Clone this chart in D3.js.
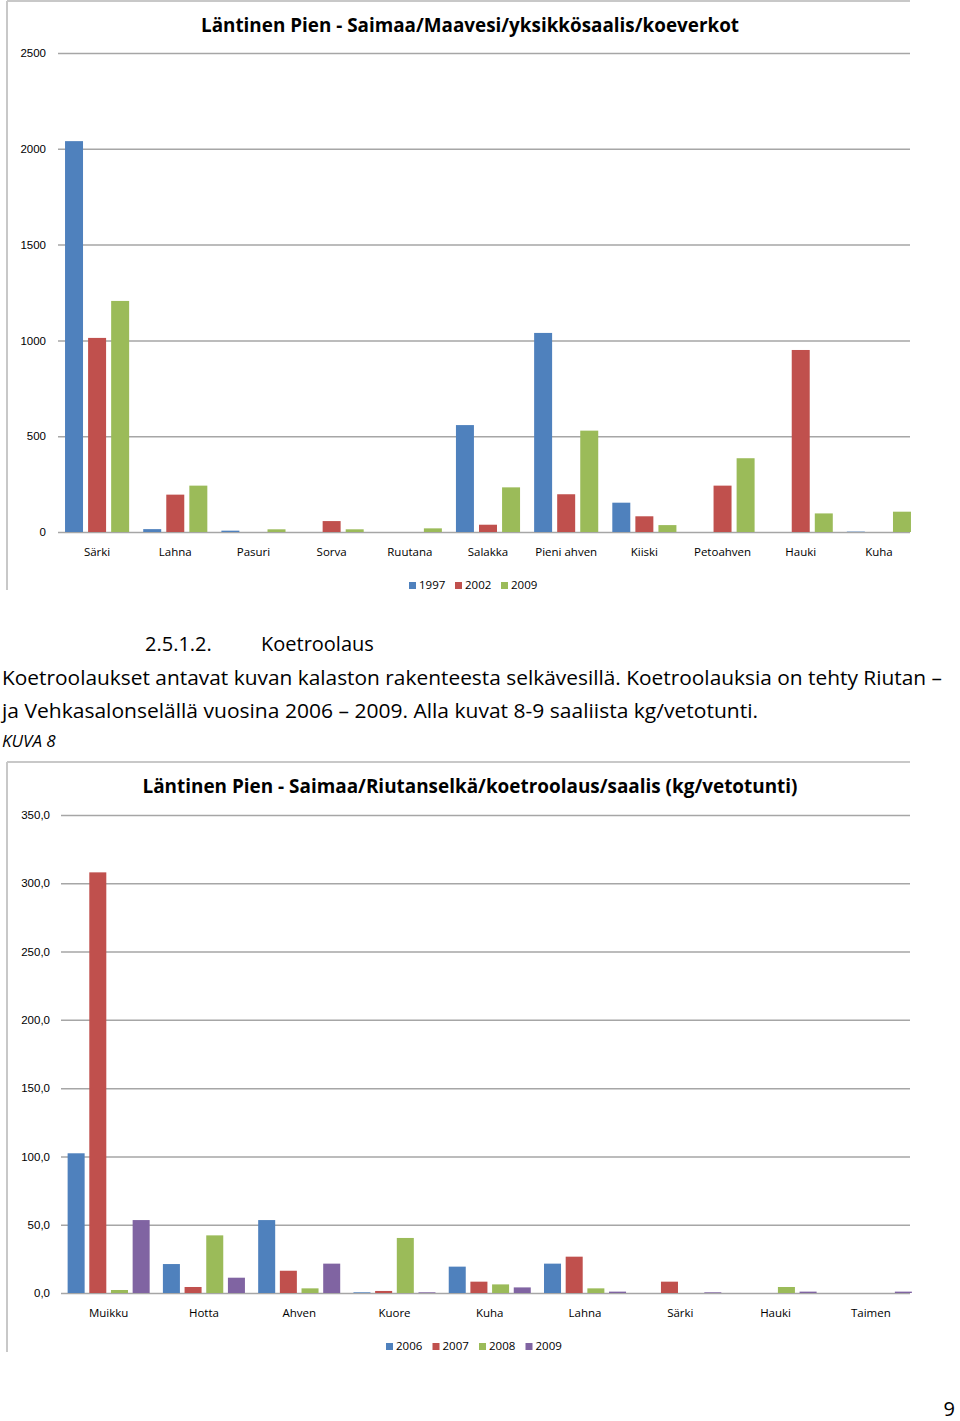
<!DOCTYPE html>
<html>
<head>
<meta charset="utf-8">
<script src="https://cdn.jsdelivr.net/npm/d3@7"></script>
<style>
  body { margin: 0; background: #fff; }
  svg { display: block; font-family: "Open Sans", "Liberation Sans", sans-serif; }
</style>
</head>
<body>
<div id="main"></div>
<script>
// chart 1 data (koeverkot)
var cats1 = ["Särki", "Lahna", "Pasuri", "Sorva", "Ruutana", "Salakka", "Pieni ahven", "Kiiski", "Petoahven", "Hauki", "Kuha"];
var years1 = ["1997", "2002", "2009"];
var v1997 = [2040, 15, 7, 0, 0, 558, 1039, 153, 0, 0, 2];
var v2002 = [1013, 195, 0, 57, 0, 38, 197, 82, 242, 950, 0];
var v2009 = [1206, 242, 14, 14, 19, 233, 529, 36, 385, 97, 106];
var ticks1 = [0, 500, 1000, 1500, 2000, 2500];

// chart 2 data (koetroolaus)
var cats2 = ["Muikku", "Hotta", "Ahven", "Kuore", "Kuha", "Lahna", "Särki", "Hauki", "Taimen"];
var years2 = ["2006", "2007", "2008", "2009"];
var v2006 = [102.3, 21.2, 53.4, 0.5, 19.3, 21.5, 0, 0, 0];
var v2007 = [308, 4.4, 16.3, 1.5, 8.3, 26.6, 8.3, 0, 0];
var v2008 = [2.2, 42.2, 3.4, 40.3, 6.3, 3.4, 0, 4.4, 0];
var v2009b = [53.4, 11.2, 21.5, 0.5, 4.1, 1.0, 0.5, 1.0, 1.0];
var ticks2 = [0, 50, 100, 150, 200, 250, 300, 350];

var colors = ["#4F81BD", "#C0504D", "#9BBB59", "#8064A2"];
var fiLocale = d3.formatLocale({ decimal: ",", thousands: " ", grouping: [3], currency: ["", "€"] });

var svg = d3.select("#main").append("svg")
	.attr("width", 960)
	.attr("height", 1421);

function drawChart(opt) {
	var g = svg.append("g");

	// frame lines (top and left)
	g.append("line")
		.attr("x1", 7).attr("x2", 910)
		.attr("y1", opt.frameTop).attr("y2", opt.frameTop)
		.attr("stroke", "#c8c8c8").attr("stroke-width", 2);
	g.append("line")
		.attr("x1", 7).attr("x2", 7)
		.attr("y1", opt.frameTop).attr("y2", opt.frameBottom)
		.attr("stroke", "#c8c8c8").attr("stroke-width", 2);

	g.append("text")
		.attr("x", opt.titleX)
		.attr("y", opt.titleY)
		.attr("text-anchor", "middle")
		.attr("font-weight", "bold")
		.attr("font-size", 20)
		.attr("textLength", opt.titleLen)
		.attr("lengthAdjust", "spacingAndGlyphs")
		.attr("fill", "#000")
		.text(opt.title);

	var y = d3.scaleLinear().domain([0, opt.max]).range([opt.y0, opt.y1]);
	// the last group runs up to the right end of the gridlines
	var x0 = d3.scaleBand().domain(opt.cats).range([opt.x0, opt.xEnd])
		.paddingInner(opt.padIn).paddingOuter(opt.padIn / 2);
	var x1 = d3.scaleBand().domain(opt.years).range([0, x0.bandwidth()]).paddingInner(opt.barPad);

	var yAxis = g.append("g")
		.attr("transform", "translate(" + opt.x0 + ",0)")
		.call(d3.axisLeft(y).tickValues(opt.ticks).tickFormat(opt.fmt)
			.tickSize(-(910 - opt.x0)).tickPadding(opt.x0 - opt.labelRight));
	yAxis.select(".domain").remove();
	yAxis.selectAll(".tick line").attr("stroke", "#a6a6a6").attr("stroke-width", 1.5);
	yAxis.selectAll(".tick text").attr("font-size", 11.5).attr("fill", "#000");

	var rows = opt.cats.map(function (c, i) {
		return { cat: c, vals: opt.series.map(function (s, k) { return { year: opt.years[k], value: s[i], k: k }; }) };
	});

	var groups = g.selectAll(".grp").data(rows).enter().append("g")
		.attr("transform", function (d) { return "translate(" + x0(d.cat) + ",0)"; });
	groups.selectAll("rect")
		.data(function (d) { return d.vals.filter(function (v) { return v.value > 0; }); })
		.enter().append("rect")
		.attr("x", function (d) { return x1(d.year); })
		.attr("width", x1.bandwidth())
		.attr("y", function (d) { return y(d.value); })
		.attr("height", function (d) { return y(0) - y(d.value); })
		.attr("fill", function (d) { return colors[d.k]; });

	g.selectAll(".cat").data(opt.cats).enter().append("text")
		.attr("x", function (d) { return x0(d) + x0.bandwidth() / 2; })
		.attr("y", opt.catY)
		.attr("text-anchor", "middle")
		.attr("font-size", 11.5)
		.attr("fill", "#000")
		.text(function (d) { return d; });

	// legend
	var lg = g.append("g").attr("transform", "translate(" + opt.legendX + "," + opt.legendY + ")");
	var item = lg.selectAll("g").data(opt.years).enter().append("g")
		.attr("transform", function (d, i) { return "translate(" + i * opt.legendStep + ",0)"; });
	item.append("rect")
		.attr("x", 0).attr("y", -7).attr("width", 7).attr("height", 7)
		.attr("fill", function (d, i) { return colors[i]; });
	item.append("text")
		.attr("x", 10).attr("y", 0)
		.attr("font-size", 11.5)
		.attr("fill", "#000")
		.text(function (d) { return d; });
}

drawChart({
	frameTop: 1, frameBottom: 590,
	title: "Läntinen Pien - Saimaa/Maavesi/yksikkösaalis/koeverkot",
	titleX: 470, titleY: 32, titleLen: 538,
	cats: cats1, years: years1, series: [v1997, v2002, v2009],
	max: 2500, ticks: ticks1, fmt: d3.format("d"),
	y0: 532, y1: 53, x0: 58, xEnd: 918, labelRight: 46,
	padIn: 0.18, barPad: 0.22,
	catY: 556, legendX: 409, legendY: 589, legendStep: 46
});

drawChart({
	frameTop: 762, frameBottom: 1352,
	title: "Läntinen Pien - Saimaa/Riutanselkä/koetroolaus/saalis (kg/vetotunti)",
	titleX: 470, titleY: 793, titleLen: 655,
	cats: cats2, years: years2, series: [v2006, v2007, v2008, v2009b],
	max: 350, ticks: ticks2, fmt: fiLocale.format(".1f"),
	y0: 1293, y1: 815, x0: 61, xEnd: 918.5, labelRight: 50,
	padIn: 0.139, barPad: 0.215,
	catY: 1317, legendX: 386, legendY: 1350, legendStep: 46.5
});

// document text between the charts
var txt = svg.append("g").attr("fill", "#000").attr("font-size", 20);
txt.append("text").attr("x", 145).attr("y", 651).text("2.5.1.2.");
txt.append("text").attr("x", 261).attr("y", 651).text("Koetroolaus");
txt.append("text").attr("x", 2).attr("y", 685)
	.attr("textLength", 940).attr("lengthAdjust", "spacingAndGlyphs")
	.text("Koetroolaukset antavat kuvan kalaston rakenteesta selkävesillä. Koetroolauksia on tehty Riutan –");
txt.append("text").attr("x", 2).attr("y", 718)
	.attr("textLength", 756).attr("lengthAdjust", "spacingAndGlyphs")
	.text("ja Vehkasalonselällä vuosina 2006 – 2009. Alla kuvat 8-9 saaliista kg/vetotunti.");
txt.append("text").attr("x", 2).attr("y", 747).attr("font-size", 17).attr("font-style", "italic")
	.text("KUVA 8");
svg.append("text").attr("x", 955).attr("y", 1416).attr("text-anchor", "end")
	.attr("font-size", 20).attr("fill", "#000").text("9");
</script>
</body>
</html>
